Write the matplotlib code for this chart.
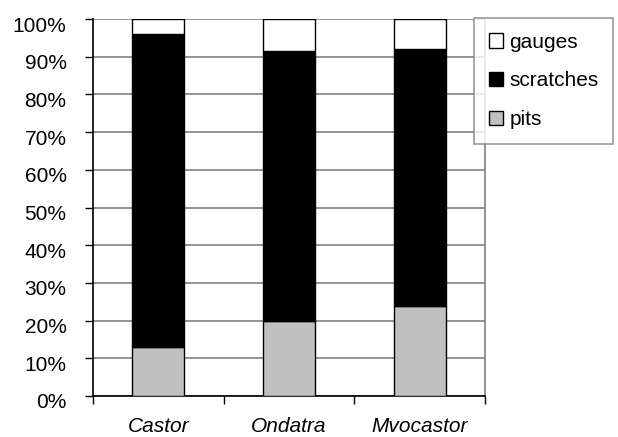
import numpy as np
import matplotlib
matplotlib.use("Agg")
import matplotlib.pyplot as plt
from matplotlib.patches import Patch
from matplotlib.ticker import MultipleLocator, FixedLocator, PercentFormatter
import matplotlib.transforms as mtransforms

# ---- data (percent of marks per taxon) ----
taxa = ["Castor", "Ondatra", "Mvocastor"]
pits = [13.0, 20.0, 24.0]
scratches = [83.0, 71.5, 68.0]
gauges = [4.0, 8.5, 8.0]

plt.rcParams["font.family"] = ["Liberation Sans", "DejaVu Sans"]

fig = plt.figure(figsize=(6.18, 4.37), dpi=100)
ax = fig.add_axes([93 / 618, 1 - 396 / 437, (485 - 93) / 618, (396 - 19) / 437])

x = np.arange(len(taxa))
w = 0.4
pits_arr = np.array(pits)
scr_arr = np.array(scratches)
gau_arr = np.array(gauges)

ax.bar(x, pits_arr, w, color="#c0c0c0", edgecolor="black", linewidth=1, zorder=3)
ax.bar(x, scr_arr, w, bottom=pits_arr, color="black", edgecolor="black", linewidth=1, zorder=3)
ax.bar(x, gau_arr, w, bottom=pits_arr + scr_arr, color="white", edgecolor="black", linewidth=1, zorder=3)

ax.set_xlim(-0.5, 2.5)
ax.set_ylim(0, 100)

# grid
ax.yaxis.set_major_locator(MultipleLocator(10))
ax.yaxis.set_major_formatter(PercentFormatter(decimals=0))
ax.grid(axis="y", color="#808080", linewidth=1.2, zorder=0)
ax.set_axisbelow(True)

# spines
ax.spines["top"].set_visible(False)
ax.spines["right"].set_color("#808080")
ax.spines["right"].set_linewidth(1.2)
ax.spines["left"].set_linewidth(1.2)
ax.spines["bottom"].set_linewidth(1.2)

# ticks
ax.tick_params(axis="y", direction="out", length=6, width=1, labelsize=15, pad=13)
ax.set_xticks(x)
ax.set_xticklabels(taxa, fontstyle="italic", fontsize=15)
ax.xaxis.set_minor_locator(FixedLocator([-0.5, 0.5, 1.5, 2.5]))
ax.tick_params(axis="x", which="major", length=0, pad=15)
ax.tick_params(axis="x", which="minor", direction="out", length=6, width=1)

# nudge y labels a little down like the original
offset = mtransforms.ScaledTranslation(0, -5 / 100, fig.dpi_scale_trans)
for lab in ax.get_yticklabels():
    lab.set_transform(lab.get_transform() + offset)

# legend
handles = [
    Patch(facecolor="white", edgecolor="black", label="gauges"),
    Patch(facecolor="black", edgecolor="black", label="scratches"),
    Patch(facecolor="#c0c0c0", edgecolor="black", label="pits"),
]
leg = fig.legend(handles=handles, loc="upper left",
                 bbox_to_anchor=(474 / 618, 1 - 18 / 437),
                 fontsize=15, frameon=True, fancybox=False,
                 handlelength=0.7, handleheight=0.7, handletextpad=0.3,
                 labelspacing=0.95, borderpad=0.7, borderaxespad=0)
leg.get_frame().set_edgecolor("#808080")
leg.get_frame().set_linewidth(1.2)

fig.savefig("out.png", dpi=100)
